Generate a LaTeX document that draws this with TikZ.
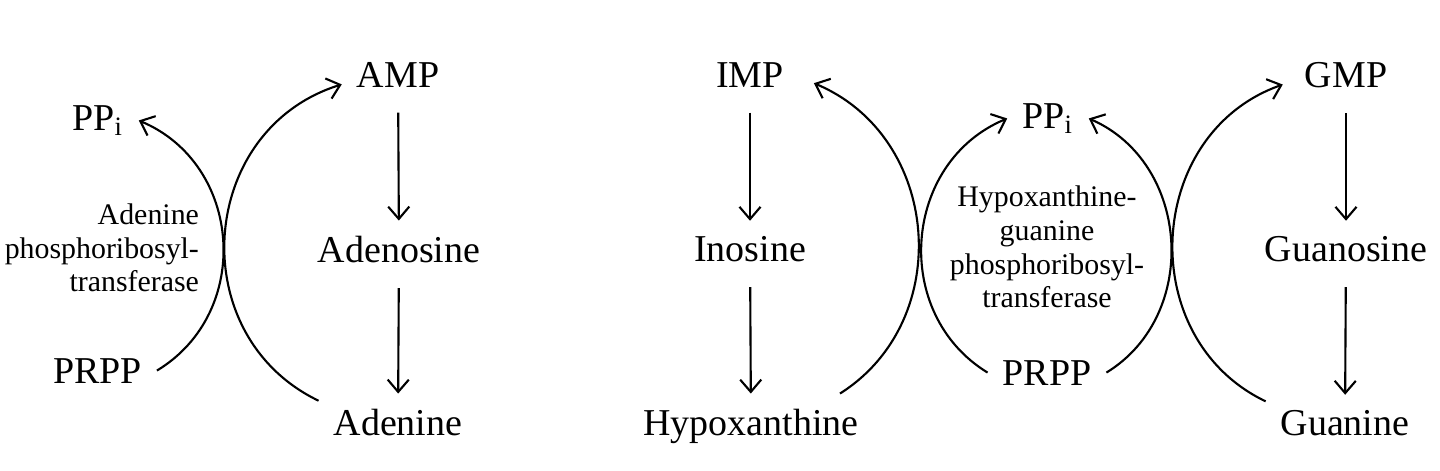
\documentclass[tikz,border=0pt]{standalone}
\usepackage{fontspec}
\setmainfont{Liberation Serif}
\usetikzlibrary{arrows.meta}
\tikzset{
every picture/.style={
line width=0.6pt
}}

\begin{document}
\begin{tikzpicture}[
met/.style = {font=\fontsize{10.8}{13}\selectfont, inner sep=4pt, anchor=base},
enz/.style = {font=\fontsize{8.5}{9.6}\selectfont, inner sep=0pt},
conv/.style = {-{Straight Barb[length=3.5pt,width=6pt]}, shorten <=3pt},
rxn/.style = {-{Straight Barb[length=3.5pt,width=6pt]}}]
\useasboundingbox (0,0) rectangle (14.4,4.7);

% adenine salvage
\node [met] at (0.98,3.40) (ppa)  {PP\textsubscript{i}};
\node [met] at (0.975,0.87) (prpa) {PRPP};
\node [met] at (3.98,3.83) (amp)  {AMP};
\node [met] at (3.99,2.08) (ado)  {Adenosine};
\node [met] at (3.98,0.35) (ade)  {Adenine};
\node [enz, align=right, anchor=east] at (2.00,2.22) (aprt)
  {Adenine\\phosphoribosyl-\\transferase};
\draw [conv] (amp) -- (ado);
\draw [conv] (ado) -- (ade);
\draw [rxn] (prpa.east) to [bend right=63, looseness=1.15] (ppa.east);
\draw [rxn] (ade.165) to [bend left=68.5, looseness=1.22] (amp.190);

% hypoxanthine and guanine salvage
\node [met] at (7.50,3.83) (imp)  {IMP};
\node [met] at (7.50,2.09) (ino)  {Inosine};
\node [met] at (7.51,0.35) (hyp)  {Hypoxanthine};
\node [met] at (10.48,3.42) (ppm) {PP\textsubscript{i}};
\node [met] at (10.47,0.85) (prpm) {PRPP};
\node [met] at (13.46,3.83) (gmp) {GMP};
\node [met] at (13.46,2.09) (guo) {Guanosine};
\node [met] at (13.45,0.35) (gua) {Guanine};
\node [enz, align=center] at (10.47,2.23) (hgprt)
  {Hypoxanthine-\\guanine\\phosphoribosyl-\\transferase};
\draw [conv] (imp) -- (ino);
\draw [conv] (ino) -- (hyp);
\draw [conv] (gmp) -- (guo);
\draw [conv] (guo) -- (gua);
\draw [rxn] (hyp.20) to [bend right=62.5, looseness=1.13] ([xshift=1.5mm]imp.350);
\draw [rxn] (prpm.west) to [bend left=63, looseness=1.14] (ppm.west);
\draw [rxn] (prpm.east) to [bend right=62.5, looseness=1.11] (ppm.east);
\draw [rxn] (gua.165) to [bend left=67.5, looseness=1.18] ([xshift=-0.7mm]gmp.190);

\end{tikzpicture}
\end{document}
